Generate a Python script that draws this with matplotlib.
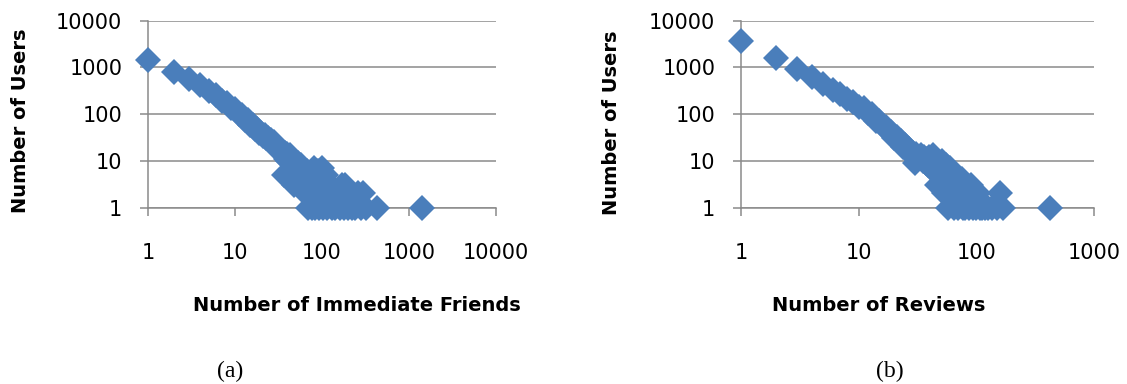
import matplotlib
matplotlib.use("Agg")
import matplotlib.pyplot as plt
from matplotlib.ticker import FixedLocator, FixedFormatter

# friends per user -> how many users have that many immediate friends
friends_x = [1, 2, 3, 4, 5, 6, 7, 8, 9, 10, 11, 12, 13, 14, 15, 16, 17, 18, 19, 20,
             21, 22, 23, 24, 25, 26, 27, 28, 29, 30, 31, 32, 33, 34, 35, 36, 37, 38, 39, 40,
             41, 42, 43, 44, 45, 46, 47, 48, 49, 50, 51, 52, 53, 54, 55, 56, 57, 58, 59, 60,
             61, 62, 63, 64, 65, 66, 67, 68, 69, 70, 72, 74, 75, 77, 78, 80, 82, 84, 85, 88,
             90, 92, 95, 98, 100, 102, 105, 108, 110, 115, 120, 125, 130, 135, 140, 150, 160,
             170, 180, 185, 190, 200, 210, 220, 240, 260, 280, 300, 320, 430, 1400]
friends_users = [1450, 790, 560, 420, 310, 255, 190, 170, 135, 128, 100, 95, 76, 73, 58, 59, 47, 48, 40, 40,
                 34, 35, 30, 31, 26, 28, 24, 25, 20, 22, 18, 19, 16, 17, 15, 14, 5, 15, 11, 14,
                 10, 12, 13, 9, 11, 8, 10, 3, 9, 7, 8, 6, 9, 5, 7, 4, 6, 8, 3, 5,
                 7, 4, 6, 2, 5, 3, 6, 4, 1, 3, 5, 2, 4, 1, 3, 2, 7, 1, 3, 2,
                 6, 1, 4, 2, 7, 1, 3, 2, 5, 1, 2, 3, 1, 2, 1, 2, 1,
                 3, 1, 3, 2, 1, 2, 1, 1, 2, 1, 2, 1, 1, 1]

# reviews per user -> how many users wrote that many reviews
reviews_x = [1, 2, 3, 4, 5, 6, 7, 8, 9, 10, 11, 12, 13, 14, 15, 16, 17, 18, 19, 20,
             21, 22, 23, 24, 25, 26, 27, 28, 29, 30, 31, 32, 33, 34, 35, 36, 37, 38, 39, 40,
             41, 42, 43, 44, 45, 46, 47, 48, 49, 50, 51, 52, 53, 54, 55, 56, 57, 58, 59, 60,
             61, 62, 63, 64, 65, 66, 67, 68, 69, 70, 72, 74, 75, 77, 78, 80, 82, 84, 86, 88,
             90, 93, 96, 100, 104, 108, 112, 118, 125, 135, 150, 160, 170, 420]
reviews_users = [3600, 1580, 900, 620, 440, 320, 270, 210, 185, 140, 135, 105, 98, 70, 72, 55, 52, 42, 41, 31,
                 32, 25, 26, 20, 22, 17, 18, 14, 15, 9, 14, 11, 12, 13, 10, 12, 9, 11, 8, 12,
                 7, 10, 13, 6, 11, 3, 8, 9, 5, 7, 10, 4, 2, 6, 8, 5, 1, 6, 4, 7,
                 3, 5, 2, 4, 1, 5, 3, 2, 4, 1, 3, 2, 4, 1, 3, 1, 2, 3, 1, 2,
                 3, 1, 2, 1, 2, 1, 1, 1, 1, 1, 1, 2, 1, 1]

blue = "#4A7EBB"
grid_grey = "#8A8A8A"


def style_axis(ax, xmax):
    ax.set_xscale("log")
    ax.set_yscale("log")
    ax.set_xlim(1, xmax)
    ax.set_ylim(1, 10000)
    xt = [10 ** i for i in range(len(str(xmax)))]
    yt = [1, 10, 100, 1000, 10000]
    ax.xaxis.set_major_locator(FixedLocator(xt))
    ax.xaxis.set_major_formatter(FixedFormatter([str(v) for v in xt]))
    ax.yaxis.set_major_locator(FixedLocator(yt))
    ax.yaxis.set_major_formatter(FixedFormatter([str(v) for v in yt]))
    ax.minorticks_off()
    ax.grid(axis="y", color=grid_grey, lw=1.1)
    ax.set_axisbelow(True)
    for s in ["top", "right"]:
        ax.spines[s].set_visible(False)
    for s in ["left", "bottom"]:
        ax.spines[s].set_color(grid_grey)
        ax.spines[s].set_linewidth(1.1)
    ax.tick_params(axis="both", which="major", direction="out", length=5.5,
                   width=1.1, color=grid_grey, labelsize=15, labelcolor="black")
    ax.tick_params(axis="x", pad=20)
    ax.tick_params(axis="y", pad=13)


fig = plt.figure(figsize=(11.27, 3.84), dpi=100)
ax1 = fig.add_axes([0.1313, 0.4596, 0.3088, 0.4870])
ax2 = fig.add_axes([0.6575, 0.4596, 0.3132, 0.4870])

ax1.plot(friends_x, friends_users, ls="none", marker="D", ms=13, mew=0,
         color=blue, clip_on=False, zorder=3)
ax2.plot(reviews_x, reviews_users, ls="none", marker="D", ms=13, mew=0,
         color=blue, clip_on=False, zorder=3)

style_axis(ax1, 10000)
style_axis(ax2, 1000)

bold = dict(fontsize=14, fontweight="bold", ha="center", va="center")
fig.text(0.0186, 0.6849, "Number of Users", rotation=90, **bold)
fig.text(0.5430, 0.6797, "Number of Users", rotation=90, **bold)
fig.text(0.3168, 0.2057, "Number of Immediate Friends", **bold)
fig.text(0.7800, 0.2057, "Number of Reviews", **bold)

fig.text(0.2041, 0.0339, "(a)", fontsize=17, family="Liberation Serif", ha="center", va="center")
fig.text(0.7897, 0.0339, "(b)", fontsize=17, family="Liberation Serif", ha="center", va="center")

fig.savefig("out.png", dpi=100)
